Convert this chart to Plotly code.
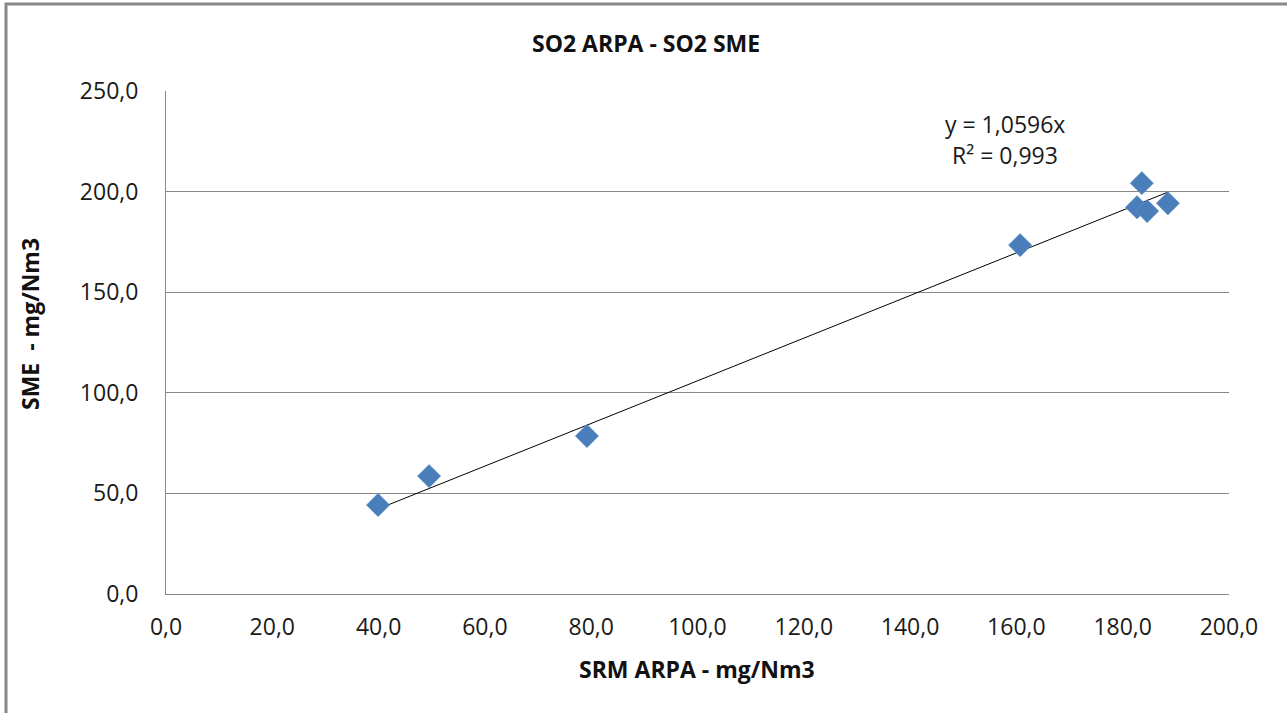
import plotly.graph_objects as go

# Data
srm_arpa = [39.9, 49.5, 79.2, 160.7, 182.7, 183.6, 184.6, 188.5]
sme = [44.2, 58.6, 78.5, 173.4, 192.2, 204.2, 190.3, 194.2]
SLOPE = 1.0596
R2 = 0.993
x_ticks = [0, 20, 40, 60, 80, 100, 120, 140, 160, 180, 200]
y_ticks = [0, 50, 100, 150, 200, 250]

def fmt(v):
    return f"{v:.1f}".replace(".", ",")

W, H = 1287, 713
L, R, T, B = 166, 1229, 91, 594

def px(x):
    return (x - L) / (R - L)

def py(y):
    return (B - y) / (B - T)

FONT = "Open Sans"
GRID = "#868686"
FS = 23

fig = go.Figure()

# trendline through origin across the data range
x0, x1 = min(srm_arpa), max(srm_arpa)
fig.add_trace(go.Scatter(
    x=[x0, x1], y=[SLOPE * x0, SLOPE * x1], mode="lines",
    line=dict(color="black", width=1), hoverinfo="skip", showlegend=False))

fig.add_trace(go.Scatter(
    x=srm_arpa, y=sme, mode="markers",
    marker=dict(symbol="diamond", size=18, color="#4a7ebb",
                line=dict(color="#6f98cf", width=0.5)),
    showlegend=False))

fig.update_layout(
    width=W, height=H,
    margin=dict(l=L, r=W - R, t=T, b=H - B),
    paper_bgcolor="white", plot_bgcolor="white",
    font=dict(family=FONT, size=FS, color="#1a1a1a"),
    xaxis=dict(range=[0, 200], tickvals=x_ticks, ticktext=[fmt(v) for v in x_ticks],
               showgrid=False, zeroline=False, showline=True, linecolor=GRID, linewidth=1,
               ticks="", ticklabelstandoff=12),
    yaxis=dict(range=[0, 250], tickvals=y_ticks, ticktext=[fmt(v) for v in y_ticks],
               showgrid=True, gridcolor=GRID, gridwidth=1, zeroline=False,
               showline=True, linecolor=GRID, linewidth=1,
               ticks="", ticklabelstandoff=22),
)

annotations = [
    dict(text="<b>SO2 ARPA - SO2 SME</b>", x=px(645.5), y=py(43), xref="paper", yref="paper",
         showarrow=False, font=dict(size=FS, family=FONT, color="#111111"),
         xanchor="center", yanchor="middle"),
    dict(text="<b>SRM ARPA - mg/Nm3</b>", x=px(697), y=py(669), xref="paper", yref="paper",
         showarrow=False, font=dict(size=FS, family=FONT, color="#111111"),
         xanchor="center", yanchor="middle"),
    dict(text="<b>SME\u00a0\u00a0- mg/Nm3</b>", x=px(30), y=py(324), xref="paper", yref="paper",
         showarrow=False, textangle=-90, font=dict(size=FS, family=FONT, color="#111111"),
         xanchor="center", yanchor="middle"),
    dict(text=f"y = {SLOPE:.4f}x".replace(".", ","), x=px(1005), y=py(124), xref="paper", yref="paper",
         showarrow=False, font=dict(size=FS, family=FONT, color="#1a1a1a"),
         xanchor="center", yanchor="middle"),
    dict(text=f"R² = {R2:.3f}".replace(".", ","), x=px(1005), y=py(155), xref="paper", yref="paper",
         showarrow=False, font=dict(size=FS, family=FONT, color="#1a1a1a"),
         xanchor="center", yanchor="middle"),
]
fig.update_layout(annotations=annotations)

# outer chart border (left & top visible)
fig.add_shape(type="rect", xref="paper", yref="paper",
              x0=px(6), x1=px(1300), y0=py(730), y1=py(4),
              line=dict(color="#878787", width=3), layer="below")

fig.write_html("out.html")
